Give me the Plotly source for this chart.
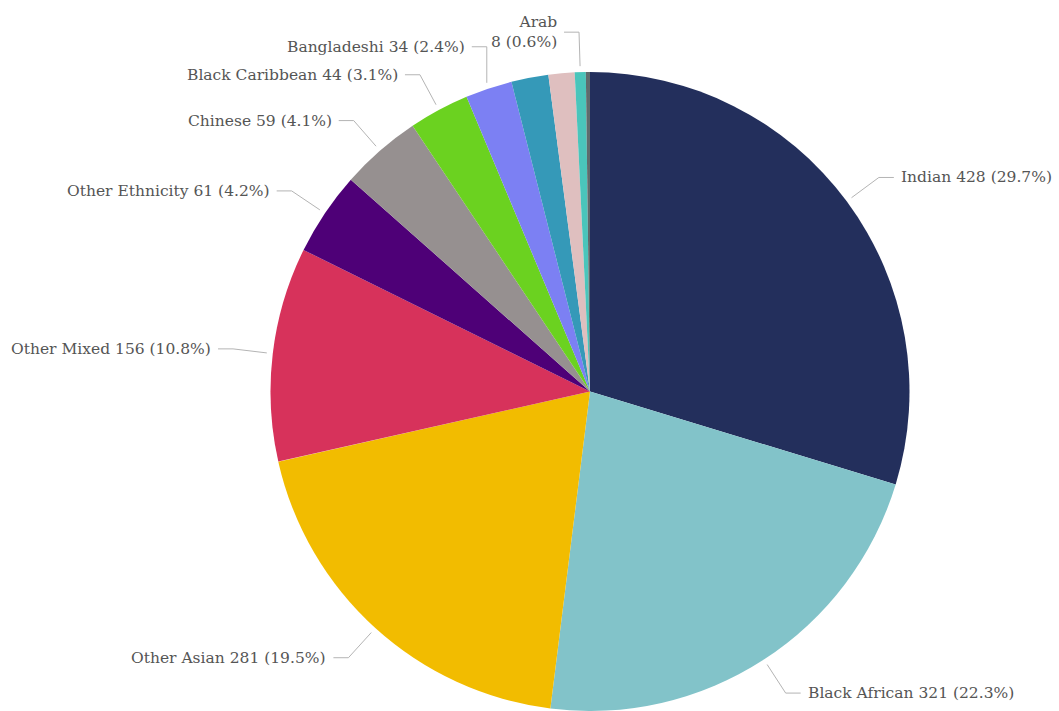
import math
import plotly.graph_objects as go

# Ethnicity breakdown (clockwise from 12 o'clock)
groups = ["Indian", "Black African", "Other Asian", "Other Mixed", "Other Ethnicity",
          "Chinese", "Black Caribbean", "Bangladeshi", "Other Black", "Pakistani",
          "Arab", "Unknown"]
counts = [428, 321, 281, 156, 61, 59, 44, 34, 27, 19, 8, 3]
colors = ["#232f5c", "#82c3c9", "#f2bc00", "#d7325b", "#4e0077", "#969090",
          "#6bd220", "#7c80f3", "#3599b8", "#dfbfbf", "#4ac5bb", "#5f6b6d"]
# slices too thin to carry their own label
unlabeled = {"Other Black", "Pakistani", "Unknown"}

W, H = 1059, 711
top = 72
R = (H - top) / 2          # pie radius in px
cx, cy = 590, top + R      # pie centre in px

def px(x, y):
    return x / W, 1 - y / H

fig = go.Figure(go.Pie(
    labels=groups, values=counts, sort=False, direction="clockwise", rotation=0,
    marker=dict(colors=colors, line=dict(width=0)),
    textinfo="none", hole=0,
    domain=dict(x=[(cx - R) / W, (cx + R) / W], y=[0, (H - top) / H]),
    showlegend=False,
))

total = sum(counts)
label_r = R + 40
elbow_r = R + 40
start_r = R + 6

items = []
cum = 0
for name, v in zip(groups, counts):
    mid = (cum + v / 2) / total * 2 * math.pi
    cum += v
    if name in unlabeled:
        continue
    s, c = math.sin(mid), math.cos(mid)
    pct = v / total * 100
    near_top = abs(math.degrees(mid) - 360) < 5 or math.degrees(mid) < 5
    text = f"{name}<br>{v} ({pct:.1f}%)" if near_top else f"{name} {v} ({pct:.1f}%)"
    items.append(dict(text=text, s=s, c=c, y=cy - label_r * c,
                      side="right" if s >= 0 else "left", wrapped=near_top))

# keep stacked labels on the left apart
left = sorted([it for it in items if it["side"] == "left" and not it["wrapped"]],
              key=lambda it: -it["y"])
for prev, cur in zip(left, left[1:]):
    cur["y"] = min(cur["y"], prev["y"] - 28)

shapes, annotations = [], []
for it in items:
    sx, sy = cx + start_r * it["s"], cy - start_r * it["c"]
    y = it["y"]
    dx = math.sqrt(max(elbow_r ** 2 - (y - cy) ** 2, 0))
    if it["side"] == "right":
        ex = max(cx + dx, sx)
        tx, lx, anchor = ex + 15, ex + 20, "left"
    else:
        ex = min(cx - dx, sx)
        tx, lx, anchor = ex - 15, ex - 20, "right"
    p0, p1, p2 = px(sx, sy), px(ex, y), px(tx, y)
    shapes.append(dict(type="path", xref="paper", yref="paper",
                       path=f"M {p0[0]} {p0[1]} L {p1[0]} {p1[1]} L {p2[0]} {p2[1]}",
                       line=dict(color="#b4b4b4", width=1)))
    ax, ay = px(lx, y)
    annotations.append(dict(text=it["text"], x=ax, y=ay, xref="paper", yref="paper",
                            xanchor=anchor, yanchor="middle", showarrow=False,
                            align="right" if anchor == "right" else "left",
                            font=dict(family="DejaVu Serif", size=15.5, color="#555555")))

fig.update_layout(
    width=W, height=H, margin=dict(l=0, r=0, t=0, b=0),
    paper_bgcolor="white", plot_bgcolor="white",
    shapes=shapes, annotations=annotations,
)

fig.write_html("out.html")
